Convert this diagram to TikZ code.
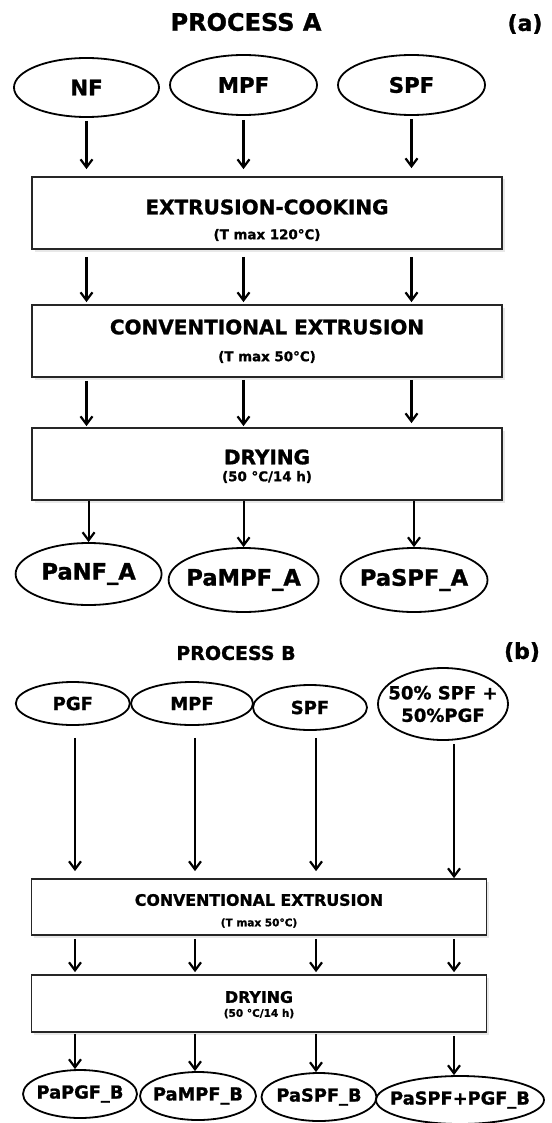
\documentclass[tikz,border=0pt]{standalone}
\usepackage{fontspec}
\setmainfont{DejaVu Sans}[BoldFeatures={FakeBold=1.2}]
\usetikzlibrary{arrows.meta,shapes.geometric,shadows}

\begin{document}
\begin{tikzpicture}[x=1pt,y=-1pt]
    \tikzstyle{heading}=[font=\bfseries\fontsize{24}{28}\selectfont]
    \tikzstyle{tag}=[font=\bfseries\fontsize{22}{26}\selectfont]
    \tikzstyle{feed}=[ellipse, draw=black, line width=1.8pt, inner xsep=-30pt, inner ysep=0pt, align=center]
    \tikzstyle{stage}=[rectangle, draw=black!85, line width=1.7pt, fill=white, drop shadow={shadow xshift=2.5pt, shadow yshift=-2.5pt, opacity=0.18}]
    \tikzstyle{bigA}=[font=\bfseries\fontsize{20}{24}\selectfont]
    \tikzstyle{smallA}=[font=\bfseries\fontsize{13.4}{16}\selectfont]
    \tikzstyle{bigB}=[font=\bfseries\fontsize{15.8}{19}\selectfont]
    \tikzstyle{smallB}=[font=\bfseries\fontsize{10.5}{13}\selectfont]
    \tikzstyle{connect}=[-{Straight Barb[length=8pt,width=12pt]}, line width=2.2pt]
    \useasboundingbox (0,0) rectangle (551,1123);

    % process A
    \node[heading] (titleA) at (246,22) {PROCESS A};
    \node[tag] (tagA) at (525,24) {(a)};
    \node[feed, minimum width=145pt, minimum height=59pt, font=\bfseries\fontsize{21.3}{25}\selectfont] (nfA) at (86.5,87.5) {NF};
    \node[feed, minimum width=147pt, minimum height=60pt, font=\bfseries\fontsize{21.3}{25}\selectfont] (mpfA) at (243.5,85) {MPF};
    \node[feed, minimum width=147pt, minimum height=60pt, font=\bfseries\fontsize{21.3}{25}\selectfont] (spfA) at (411.5,85) {SPF};
    \node[stage, minimum width=470pt, minimum height=72pt] (cookA) at (267,213)
        [label={[bigA, yshift=6pt]center:EXTRUSION-COOKING}, label={[smallA, yshift=-22pt]center:(T max 120°C)}] {};
    \node[stage, minimum width=470pt, minimum height=72pt] (convA) at (267,341)
        [label={[bigA, yshift=14pt]center:CONVENTIONAL EXTRUSION}, label={[smallA, yshift=-16pt]center:(T max 50°C)}] {};
    \node[stage, minimum width=470pt, minimum height=72pt] (dryA) at (267,464)
        [label={[bigA, yshift=7pt]center:DRYING}, label={[smallA, yshift=-13pt]center:(50 °C/14 h)}] {};
    \node[feed, minimum width=146pt, minimum height=62pt, font=\bfseries\fontsize{22.6}{26}\selectfont] (panfA) at (88.6,574) {PaNF\_A};
    \node[feed, minimum width=150pt, minimum height=64pt, font=\bfseries\fontsize{22.6}{26}\selectfont] (pampfA) at (243.6,580) {PaMPF\_A};
    \node[feed, minimum width=147pt, minimum height=64pt, font=\bfseries\fontsize{22.6}{26}\selectfont] (paspfA) at (414,580) {PaSPF\_A};

    \path (nfA) edge [connect, shorten <=3pt, shorten >=7pt] (nfA |- cookA.north)
    (mpfA) edge [connect, shorten <=4pt, shorten >=7pt] (mpfA |- cookA.north)
    (spfA) edge [connect, shorten <=3pt, shorten >=8pt] (spfA |- cookA.north)
    (nfA |- cookA.south) edge [connect, shorten <=7pt, shorten >=2pt] (nfA |- convA.north)
    (mpfA |- cookA.south) edge [connect, shorten <=7pt, shorten >=2pt] (mpfA |- convA.north)
    (spfA |- cookA.south) edge [connect, shorten <=7pt, shorten >=2pt] (spfA |- convA.north)
    (nfA |- convA.south) edge [connect, shorten <=3pt, shorten >=1pt] (nfA |- dryA.north)
    (mpfA |- convA.south) edge [connect, shorten <=2pt, shorten >=1pt] (mpfA |- dryA.north)
    (spfA |- convA.south) edge [connect, shorten <=2pt, shorten >=4pt] (spfA |- dryA.north)
    (panfA |- dryA.south) edge [connect] (panfA.north)
    (pampfA |- dryA.south) edge [connect] (pampfA.north)
    (paspfA |- dryA.south) edge [connect] (paspfA.north);

    % process B
    \node[heading, font=\bfseries\fontsize{19}{23}\selectfont] (titleB) at (236,653) {PROCESS B};
    \node[tag] (tagB) at (522,652) {(b)};
    \node[feed, minimum width=114pt, minimum height=43pt, font=\bfseries\fontsize{18}{21}\selectfont] (pgfB) at (72.8,703.5) {PGF};
    \node[feed, minimum width=122pt, minimum height=43pt, font=\bfseries\fontsize{18}{21}\selectfont] (mpfB) at (192,703.5) {MPF};
    \node[feed, minimum width=114pt, minimum height=45pt, font=\bfseries\fontsize{18}{21}\selectfont] (spfB) at (310,707.5) {SPF};
    \node[feed, minimum width=130pt, minimum height=72pt, font=\bfseries\fontsize{18}{22.5}\selectfont] (mixB) at (443,704) {50\% SPF +\\50\%PGF};
    \node[stage, minimum width=455pt, minimum height=56pt] (convB) at (259,907)
        [label={[bigB, yshift=7pt]center:CONVENTIONAL EXTRUSION}, label={[smallB, yshift=-16pt]center:(T max 50°C)}] {};
    \node[stage, minimum width=455pt, minimum height=57pt] (dryB) at (259,1003.5)
        [label={[bigB, yshift=6.5pt]center:DRYING}, label={[smallB, yshift=-10pt]center:(50 °C/14 h)}] {};
    \node[feed, minimum width=114pt, minimum height=48pt, font=\bfseries\fontsize{17.8}{21}\selectfont] (papgfB) at (80,1094) {PaPGF\_B};
    \node[feed, minimum width=116pt, minimum height=48pt, font=\bfseries\fontsize{17.8}{21}\selectfont] (pampfB) at (198,1096) {PaMPF\_B};
    \node[feed, minimum width=115pt, minimum height=48pt, font=\bfseries\fontsize{17.8}{21}\selectfont] (paspfB) at (319,1097) {PaSPF\_B};
    \node[feed, minimum width=168pt, minimum height=48pt, font=\bfseries\fontsize{17.8}{21}\selectfont] (pamixB) at (460,1100) {PaSPF+PGF\_B};

    \coordinate (colB1) at (75,0);
    \coordinate (colB2) at (195,0);
    \coordinate (colB3) at (316,0);
    \coordinate (colB4) at (454,0);
    \path (pgfB.south -| colB1) edge [connect, shorten <=12pt, shorten >=7pt] (convB.north -| colB1)
    (mpfB.south -| colB2) edge [connect, shorten <=12pt, shorten >=7pt] (convB.north -| colB2)
    (spfB.south -| colB3) edge [connect, shorten <=7pt, shorten >=7pt] (convB.north -| colB3)
    (mixB.south -| colB4) edge [connect, shorten <=3pt] (convB.north -| colB4)
    (convB.south -| colB1) edge [connect, shorten <=3pt, shorten >=2pt] (dryB.north -| colB1)
    (convB.south -| colB2) edge [connect, shorten <=3pt, shorten >=2pt] (dryB.north -| colB2)
    (convB.south -| colB3) edge [connect, shorten <=3pt, shorten >=2pt] (dryB.north -| colB3)
    (convB.south -| colB4) edge [connect, shorten <=3pt, shorten >=2pt] (dryB.north -| colB4)
    (dryB.south -| colB1) edge [connect, shorten <=1pt] (papgfB.north -| colB1)
    (dryB.south -| colB2) edge [connect, shorten <=1pt] (pampfB.north -| colB2)
    (dryB.south -| colB3) edge [connect, shorten <=1pt] (paspfB.north -| colB3)
    (dryB.south -| colB4) edge [connect, shorten <=3pt] (pamixB.north -| colB4);
\end{tikzpicture}
\end{document}
